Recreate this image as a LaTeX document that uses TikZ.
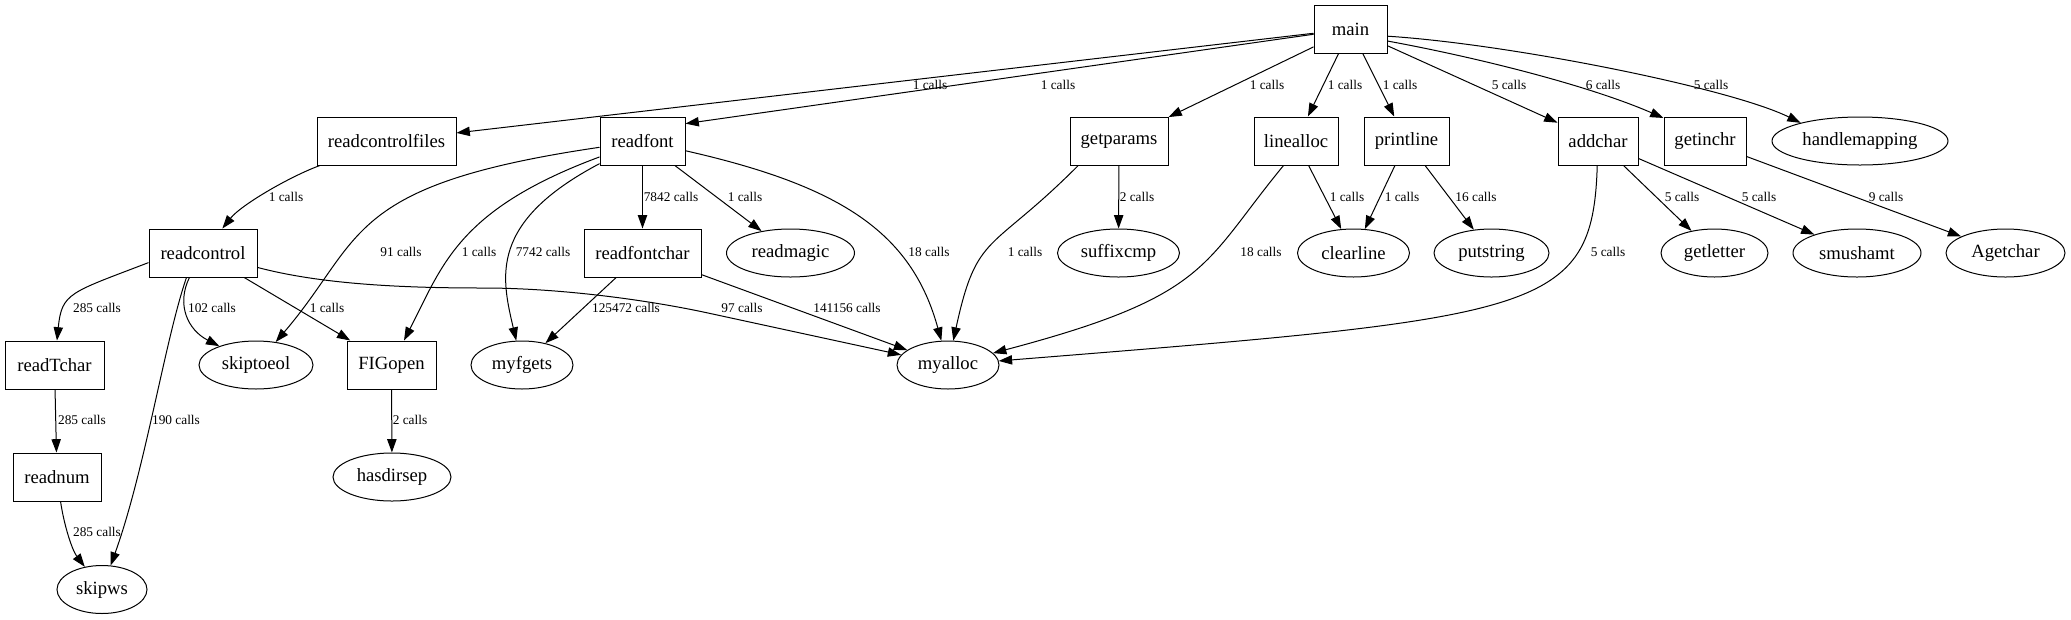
\documentclass[tikz,border=0pt]{standalone}
\usepackage{fontspec}
\setmainfont{Liberation Serif}
\usetikzlibrary{shapes.geometric,arrows.meta}
\begin{document}
\begin{tikzpicture}[x=0.75pt,y=-0.75pt,
  fn/.style={draw, rectangle, minimum height=36pt, minimum width=#1*0.75pt, inner sep=0pt, line width=0.75pt, font=\fontsize{14}{16}\selectfont},
  leaf/.style={draw, ellipse, minimum height=36pt, minimum width=#1*1.5pt, inner sep=0pt, line width=0.75pt, font=\fontsize{14}{16}\selectfont},
  call/.style={-{Triangle[length=10pt,width=7pt]}, line width=0.75pt},
  lbl/.style={inner sep=0pt, font=\fontsize{10}{12}\selectfont}]
\useasboundingbox (0,0) rectangle (2071,619);
% nodes
\node[fn=73] (main) at (1350.5,29) {main};
\node[fn=139] (readcontrolfiles) at (386.5,141) {readcontrolfiles};
\node[fn=85] (readfont) at (642.5,141) {readfont};
\node[fn=98] (getparams) at (1119,141) {getparams};
\node[fn=84] (linealloc) at (1296,141) {linealloc};
\node[fn=85] (printline) at (1406.5,141) {printline};
\node[fn=80] (addchar) at (1598,141) {addchar};
\node[fn=82] (getinchr) at (1705,141) {getinchr};
\node[leaf=88] (handlemapping) at (1860,141) {handlemapping};
\node[fn=108] (readcontrol) at (203,253) {readcontrol};
\node[fn=117] (readfontchar) at (642.5,253) {readfontchar};
\node[leaf=64] (readmagic) at (790.5,253) {readmagic};
\node[leaf=61] (suffixcmp) at (1118.5,253) {suffixcmp};
\node[leaf=56] (clearline) at (1353.5,253) {clearline};
\node[leaf=57.5] (putstring) at (1491.5,253) {putstring};
\node[leaf=53.5] (getletter) at (1714.5,253) {getletter};
\node[leaf=64] (smushamt) at (1857,253) {smushamt};
\node[leaf=59.5] (Agetchar) at (2005.5,253) {Agetchar};
\node[fn=99] (readTchar) at (54.5,365) {readTchar};
\node[leaf=57] (skiptoeol) at (256,365) {skiptoeol};
\node[fn=89] (FIGopen) at (391.5,365) {FIGopen};
\node[leaf=51] (myfgets) at (522,365) {myfgets};
\node[leaf=51] (myalloc) at (948,365) {myalloc};
\node[fn=88] (readnum) at (57,477) {readnum};
\node[leaf=59] (hasdirsep) at (392,477) {hasdirsep};
\node[leaf=45] (skipws) at (102,589.5) {skipws};
% edges from main
\draw[call] (main) -- (readcontrolfiles);
\draw[call] (main) -- (readfont.22);
\draw[call] (main) -- (getparams);
\draw[call] (main) -- (linealloc);
\draw[call] (main) -- (printline);
\draw[call] (main) -- (addchar);
\draw[call] (main.-18) .. controls (1480,58) and (1590,86) .. (getinchr.151);
\draw[call] (main.-11) .. controls (1510,44) and (1730,88) .. (handlemapping.163);
% readcontrolfiles
\draw[call] (readcontrolfiles) .. controls (289.4,176.7) and (241,205) .. (readcontrol);
% readfont
\draw[call] (readfont) -- (readfontchar);
\draw[call] (readfont) -- (readmagic);
\draw[call] (readfont) .. controls (839.7,185.7) and (911.4,231.7) .. (myalloc);
\draw[call] (readfont) .. controls (342.4,185) and (364.3,238.6) .. (skiptoeol);
\draw[call] (readfont) .. controls (458.2,209.4) and (442.8,264.6) .. (FIGopen);
\draw[call] (readfont) .. controls (488.6,222.2) and (501.3,276.8) .. (myfgets);
% readfontchar
\draw[call] (readfontchar) -- (myfgets);
\draw[call] (readfontchar) -- (myalloc);
% readcontrol
\draw[call] (readcontrol) .. controls (320,284) and (400,288) .. (483,288)
   .. controls (560,288) and (648,300) .. (708,313) -- (myalloc);
\draw[call] (readcontrol.190) .. controls (69.5,292.9) and (61.8,292.8) .. (readTchar);
\draw[call] (readcontrol.241) .. controls (176,305) and (188,330) .. (skiptoeol);
\draw[call] (readcontrol) -- (FIGopen);
\draw[call] (readcontrol.236) .. controls (165,340) and (145,470) .. (skipws);
% lower left
\draw[call] (readTchar) -- (readnum);
\draw[call] (readnum) .. controls (64,525) and (72,550) .. (skipws);
\draw[call] (FIGopen) -- (hasdirsep);
% getparams
\draw[call] (getparams.211) .. controls (990.3,253.7) and (977,231) .. (myalloc);
\draw[call] (getparams) -- (suffixcmp);
% linealloc, printline
\draw[call] (linealloc.243) .. controls (1201.7,264.8) and (1210.5,295.6) .. (myalloc);
\draw[call] (linealloc) -- (clearline);
\draw[call] (printline) -- (clearline);
\draw[call] (printline) -- (putstring);
% addchar, getinchr
\draw[call] (addchar) .. controls (1592.7,313.5) and (1540.6,317.5) .. (myalloc);
\draw[call] (addchar) -- (getletter);
\draw[call] (addchar) -- (smushamt);
\draw[call] (getinchr) -- (Agetchar);
% labels
\node[lbl] (l1) at (930,85) {1 calls};
\node[lbl] (l2) at (1058,85) {1 calls};
\node[lbl] (l3) at (1267,85) {1 calls};
\node[lbl] (l4) at (1345,85) {1 calls};
\node[lbl] (l5) at (1400,85) {1 calls};
\node[lbl] (l6) at (1509,85) {5 calls};
\node[lbl] (l7) at (1603,85) {6 calls};
\node[lbl] (l8) at (1711,85) {5 calls};
\node[lbl] (l9) at (286,197) {1 calls};
\node[lbl] (l10) at (671,197) {7842 calls};
\node[lbl] (l11) at (745,197) {1 calls};
\node[lbl] (l12) at (929,252) {18 calls};
\node[lbl] (l13) at (401,252) {91 calls};
\node[lbl] (l14) at (479,252) {1 calls};
\node[lbl] (l15) at (543,252) {7742 calls};
\node[lbl] (l16) at (626,308) {125472 calls};
\node[lbl] (l17) at (847,308) {141156 calls};
\node[lbl] (l18) at (742,308) {97 calls};
\node[lbl] (l19) at (97,308) {285 calls};
\node[lbl] (l20) at (212,308) {102 calls};
\node[lbl] (l21) at (327,308) {1 calls};
\node[lbl] (l22) at (176,420) {190 calls};
\node[lbl] (l23) at (82,420) {285 calls};
\node[lbl] (l24) at (97,532) {285 calls};
\node[lbl] (l25) at (410,420) {2 calls};
\node[lbl] (l26) at (1025,252) {1 calls};
\node[lbl] (l27) at (1137,197) {2 calls};
\node[lbl] (l28) at (1261,252) {18 calls};
\node[lbl] (l29) at (1347,197) {1 calls};
\node[lbl] (l30) at (1402,197) {1 calls};
\node[lbl] (l31) at (1476,197) {16 calls};
\node[lbl] (l32) at (1608,252) {5 calls};
\node[lbl] (l33) at (1682,197) {5 calls};
\node[lbl] (l34) at (1759,197) {5 calls};
\node[lbl] (l35) at (1886,197) {9 calls};
\end{tikzpicture}
\end{document}
